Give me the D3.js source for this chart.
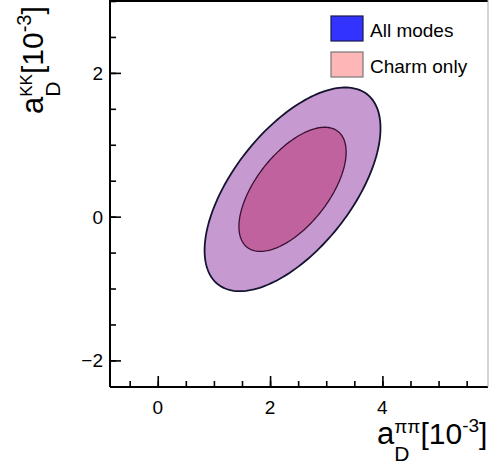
<!DOCTYPE html>
<html>
<head>
<meta charset="utf-8">
<script src="https://cdn.jsdelivr.net/npm/d3@7"></script>
<style>
  body { margin: 0; background: #fff; }
  text { font-family: "Liberation Sans", Arial, Helvetica, sans-serif; fill: #000; }
</style>
</head>
<body>
<div id="chart"></div>
<script>
// axis ranges and ticks
const xDomain = [-0.85, 5.88];
const yDomain = [-2.37, 3.0];
const xTicks = [0, 2, 4];
const yTicks = [-2, 0, 2];

// fitted central value, uncertainties and correlation
const center = [2.40, 0.38];
const sigma = [0.63, 0.57];
const rho = 0.6;
// contour radii (68.3% and 95.4% CL in 2D)
const levels = [2.486, 1.515];
const levelFill = ["#c699d0", "#c0629e"];
const levelStroke = ["#141430", "#3a1030"];

const legendNames = ["All modes", "Charm only"];
const legendColors = ["#3333ff", "#ffb6b6"];
const legendBorders = ["#1a1a50", "#777"];

(function() {
    const width = 489, height = 465;
    const left = 110, right = 488, top = 1, bottom = 387;

    const svg = d3.select("#chart").append("svg")
        .attr("width", width)
        .attr("height", height);

    const x = d3.scaleLinear().domain(xDomain).range([left, right]);
    const y = d3.scaleLinear().domain(yDomain).range([bottom, top]);

    // contours
    const t = d3.range(0, 2 * Math.PI, Math.PI / 90);
    const line = d3.line()
        .x(d => x(d[0]))
        .y(d => y(d[1]))
        .curve(d3.curveLinearClosed);

    levels.forEach((r, i) => {
        const pts = t.map(a => [
            center[0] + r * sigma[0] * Math.cos(a),
            center[1] + r * sigma[1] * (rho * Math.cos(a) + Math.sqrt(1 - rho * rho) * Math.sin(a))
        ]);
        svg.append("path")
            .attr("d", line(pts))
            .attr("fill", levelFill[i])
            .attr("stroke", levelStroke[i])
            .attr("stroke-width", i == 0 ? 1.8 : 1.3);
    });

    // axes, ticks pointing inward
    const xAxis = d3.axisTop(x).tickValues(d3.range(-0.5, 5.9, 0.5)).tickSize(6).tickFormat("");
    const xMajor = d3.axisTop(x).tickValues(xTicks).tickSize(11).tickFormat("");
    const yAxis = d3.axisRight(y).tickValues(d3.range(-2, 3.01, 0.5)).tickSize(6).tickFormat("");
    const yMajor = d3.axisRight(y).tickValues(yTicks).tickSize(11).tickFormat("");

    [xAxis, xMajor].forEach(ax => {
        svg.append("g").attr("transform", `translate(0,${bottom})`).call(ax)
            .call(g => g.select(".domain").remove())
            .selectAll("line").attr("stroke", "#000").attr("stroke-width", 1.6);
    });
    [yAxis, yMajor].forEach(ax => {
        svg.append("g").attr("transform", `translate(${left},0)`).call(ax)
            .call(g => g.select(".domain").remove())
            .selectAll("line").attr("stroke", "#000").attr("stroke-width", 1.6);
    });

    // frame
    svg.append("line").attr("x1", left).attr("x2", right).attr("y1", bottom).attr("y2", bottom)
        .attr("stroke", "#000").attr("stroke-width", 2);
    svg.append("line").attr("x1", left).attr("x2", left).attr("y1", 0).attr("y2", bottom)
        .attr("stroke", "#000").attr("stroke-width", 2);
    svg.append("line").attr("x1", left).attr("x2", right).attr("y1", top).attr("y2", top)
        .attr("stroke", "#000").attr("stroke-width", 2);
    svg.append("line").attr("x1", right).attr("x2", right).attr("y1", 0).attr("y2", bottom)
        .attr("stroke", "#aaa").attr("stroke-width", 1);

    // tick labels
    svg.append("g").selectAll("text").data(xTicks).enter().append("text")
        .attr("x", d => x(d)).attr("y", 414)
        .attr("text-anchor", "middle").attr("font-size", 19)
        .text(d => d < 0 ? "\u2212" + Math.abs(d) : d);
    svg.append("g").selectAll("text").data(yTicks).enter().append("text")
        .attr("x", 103).attr("y", d => y(d) + 7)
        .attr("text-anchor", "end").attr("font-size", 19)
        .text(d => d < 0 ? "\u2212" + Math.abs(d) : d);

    // title with sub/superscripts, pieces laid out one after another
    function latex(g, pieces) {
        let pos = 0;
        let stackW = 0;
        pieces.forEach(p => {
            const tx = g.append("text")
                .attr("x", pos).attr("y", p.dy || 0)
                .attr("font-size", p.size)
                .text(p.text);
            const w = tx.node().getComputedTextLength();
            if (p.stack) {
                stackW = Math.max(stackW, w);
            } else {
                pos += Math.max(w, stackW);
                stackW = 0;
            }
        });
        return pos;
    }

    const xt = svg.append("g").attr("transform", "translate(377,444)");
    latex(xt, [
        {text: "a", size: 31},
        {text: "D", size: 21, dy: 17, stack: true},
        {text: "\u03c0\u03c0", size: 19, dy: -11},
        {text: "[10", size: 30},
        {text: "-3", size: 19, dy: -12},
        {text: "]", size: 30}
    ]);

    const yt = svg.append("g").attr("transform", "translate(43,114) rotate(-90)");
    latex(yt, [
        {text: "a", size: 31},
        {text: "D", size: 21, dy: 17, stack: true},
        {text: "KK", size: 17, dy: -11},
        {text: "[10", size: 30},
        {text: "-3", size: 20, dy: -12},
        {text: "]", size: 30}
    ]);

    // legend
    const leg = svg.append("g");
    legendNames.forEach((name, i) => {
        leg.append("rect")
            .attr("x", 331).attr("y", 16 + i * 36)
            .attr("width", 32).attr("height", 25)
            .attr("fill", legendColors[i])
            .attr("stroke", legendBorders[i]).attr("stroke-width", 1.2);
        leg.append("text")
            .attr("x", 370).attr("y", 37 + i * 36)
            .attr("font-size", 19)
            .text(name);
    });
})();
</script>
</body>
</html>
